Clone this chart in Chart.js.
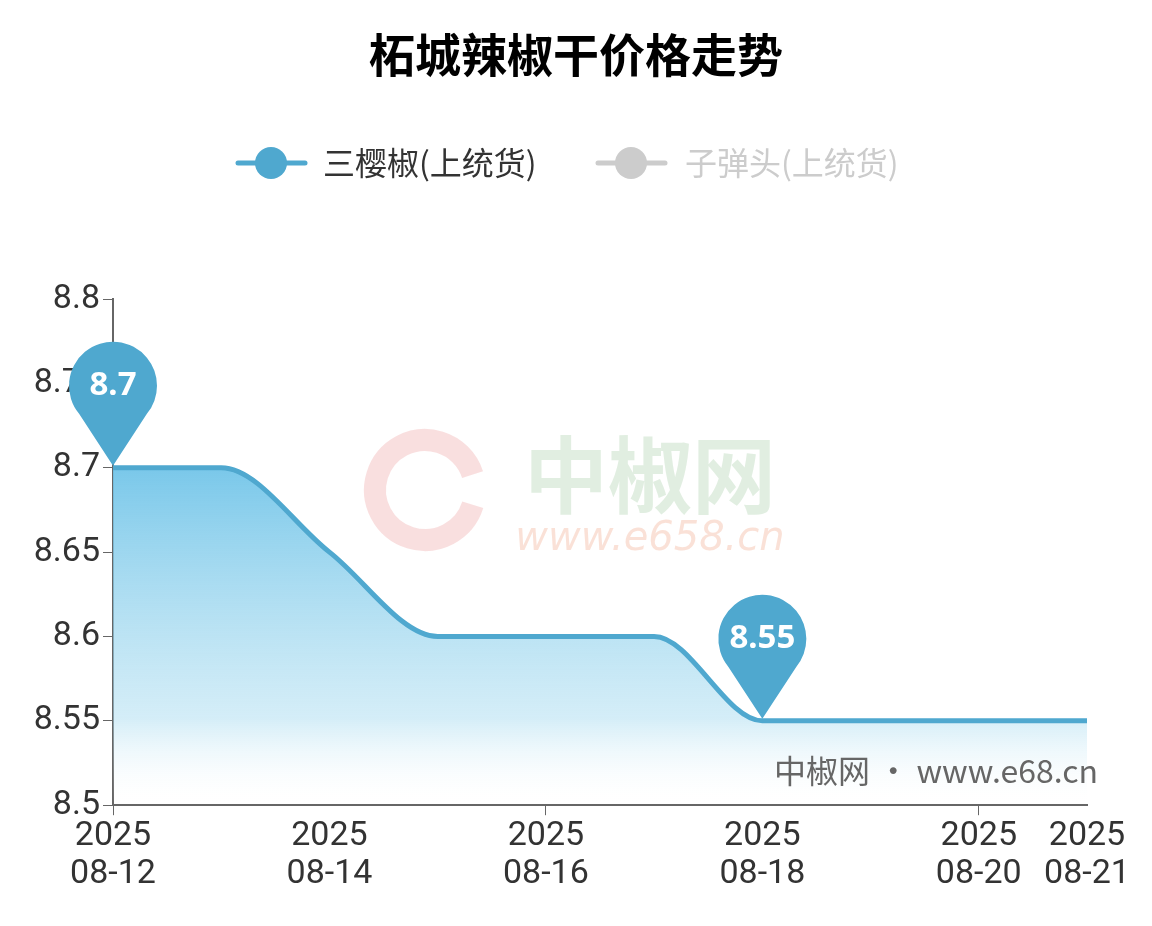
<!DOCTYPE html>
<html><head><meta charset="utf-8">
<script src="https://cdn.jsdelivr.net/npm/chart.js@4"></script>
<style>body{margin:0;background:#fff}canvas{display:block}</style>
</head><body>
<canvas id="c" width="1152" height="926"></canvas>
<script>
const dates = ['08-12','08-13','08-14','08-15','08-16','08-17','08-18','08-19','08-20','08-21'];
const sanying = [8.7, 8.7, 8.65, 8.6, 8.6, 8.6, 8.55, 8.55, 8.55, 8.55];
const shownTicks = [0, 2, 4, 6, 8, 9];
const pinIdx = [0, 6];
const blue = '#4fa8cf';

const extras = {
  id: 'extras',
  beforeDatasetsDraw(chart) {
    const c = chart.ctx;
    c.save();
    c.textAlign = 'center'; c.textBaseline = 'middle';
    c.font = 'bold 84px "Noto Sans CJK SC"';
    c.fillStyle = 'rgba(170,205,170,0.35)';
    c.fillText('中椒网', 650, 475);
    c.font = 'italic 40px "DejaVu Sans"';
    c.fillStyle = 'rgba(240,170,140,0.35)';
    c.fillText('www.e658.cn', 650, 540);
    c.beginPath(); c.arc(425, 490, 50, 0.3, Math.PI * 1.9);
    c.strokeStyle = 'rgba(235,150,150,0.3)'; c.lineWidth = 22; c.stroke();
    c.restore();
  },
  afterDraw(chart) {
    const c = chart.ctx;
    c.save();
    c.textAlign = 'center'; c.textBaseline = 'middle';
    c.font = 'bold 46px "Noto Sans CJK SC"'; c.fillStyle = '#000';
    c.fillText('柘城辣椒干价格走势', 576, 55);
    // legend
    c.lineWidth = 5; c.lineCap = 'round';
    c.strokeStyle = blue; c.beginPath(); c.moveTo(238, 163); c.lineTo(305, 163); c.stroke();
    c.fillStyle = blue; c.beginPath(); c.arc(271, 163, 16, 0, Math.PI * 2); c.fill();
    c.strokeStyle = '#ccc'; c.beginPath(); c.moveTo(598, 163); c.lineTo(665, 163); c.stroke();
    c.fillStyle = '#ccc'; c.beginPath(); c.arc(631, 163, 16, 0, Math.PI * 2); c.fill();
    c.font = '32px "Noto Sans CJK SC"'; c.textAlign = 'left';
    c.fillStyle = '#333'; c.fillText('三樱椒(上统货)', 323, 163);
    c.fillStyle = '#ccc'; c.fillText('子弹头(上统货)', 685, 163);
    c.font = '32px "Noto Sans CJK SC"'; c.fillStyle = '#666'; c.textAlign = 'right';
    c.fillText('中椒网 · www.e68.cn', 1098, 771);
    // pins
    const meta = chart.getDatasetMeta(0);
    pinIdx.forEach(i => {
      const p = meta.data[i];
      const cx = p.x, cy = p.y - 82, r = 44;
      c.fillStyle = blue;
      c.beginPath();
      c.arc(cx, cy, r, Math.PI * 0.78, Math.PI * 0.22, false);
      c.lineTo(cx, p.y - 2);
      c.closePath(); c.fill();
      c.fillStyle = '#fff'; c.textAlign = 'center';
      c.font = 'bold 33px "Noto Sans"';
      c.fillText(String(sanying[i]), cx, cy);
    });
    c.restore();
  }
};

new Chart(document.getElementById('c'), {
  type: 'line',
  data: {
    labels: dates,
    datasets: [{
      data: sanying,
      borderColor: blue,
      borderWidth: 5,
      pointRadius: 0,
      cubicInterpolationMode: 'monotone',
      fill: 'start',
      backgroundColor(ctx) {
        const a = ctx.chart.chartArea;
        if (!a) return 'rgba(100,190,230,0.5)';
        const g = ctx.chart.ctx.createLinearGradient(0, a.top + 160, 0, a.bottom);
        g.addColorStop(0, 'rgba(110,195,232,0.95)');
        g.addColorStop(0.75, 'rgba(170,220,240,0.5)');
        g.addColorStop(1, 'rgba(255,255,255,0)');
        return g;
      }
    }]
  },
  options: {
    responsive: false,
    animation: false,
    layout: { padding: { top: 299, right: 65, left: 0, bottom: 30 } },
    plugins: { legend: { display: false }, tooltip: { enabled: false } },
    scales: {
      x: {
        grid: {
          drawOnChartArea: false, tickLength: 10,
          color: ctx => shownTicks.includes(ctx.index) ? '#666' : 'rgba(0,0,0,0)'
        },
        border: { color: '#666', width: 2 },
        ticks: {
          autoSkip: false, maxRotation: 0, color: '#333',
          font: { size: 34, family: 'Roboto', lineHeight: 1.1 },
          callback: (v, i) => shownTicks.includes(i) ? ['2025', dates[i]] : null
        }
      },
      y: {
        min: 8.5, max: 8.8,
        grid: { drawOnChartArea: false, tickLength: 10, color: '#666' },
        border: { color: '#666', width: 2 },
        afterFit(s) { s.width = 113; },
        ticks: { stepSize: 0.05, color: '#333', font: { size: 34, family: 'Roboto' },
          callback: v => +v.toFixed(2) }
      }
    }
  },
  plugins: [extras]
});
</script>
</body></html>
